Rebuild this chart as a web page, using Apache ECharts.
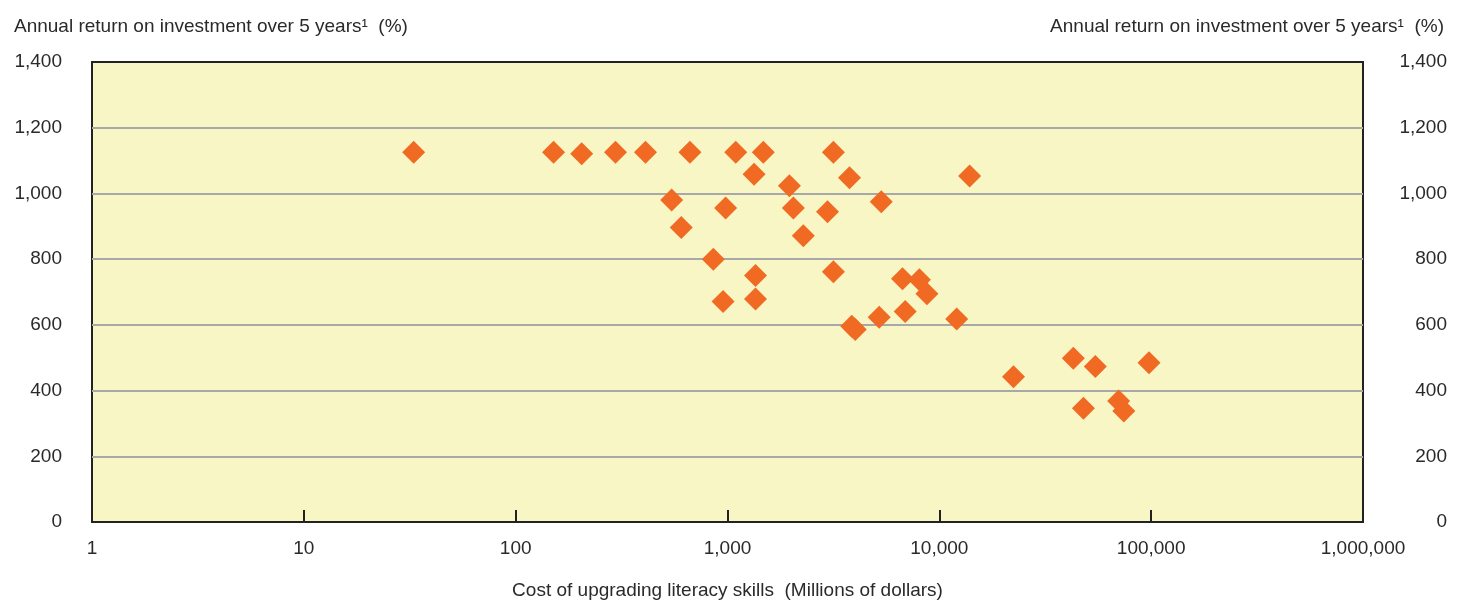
<!DOCTYPE html>
<html>
<head>
<meta charset="utf-8">
<script src="https://cdn.jsdelivr.net/npm/echarts@6/dist/echarts.min.js"></script>
<style>
html,body{margin:0;padding:0;background:#fff;}
#c{width:1465px;height:601px;}
</style>
</head>
<body>
<div id="c"></div>
<script>
// Cost of upgrading literacy skills (millions of dollars)
const costs = [33,151,205,296,410,665,1094,1476,3162,
  1335,1960,3767,13900,
  545,980,2046,2965,5320,
  605,2280,
  857,
  1356,3162,6700,8050,8740,
  953,1356,6900,5200,3860,4010,12080,
  97700,42900,54500,22400,47900,70200,74300];
// Annual return on investment over 5 years (%)
const returns = [1125,1125,1121,1125,1125,1125,1125,1125,1125,
  1058,1023,1048,1053,
  980,956,956,944,975,
  896,871,
  800,
  750,762,740,737,695,
  671,679,641,623,596,586,618,
  485,498,473,442,346,368,338];
const yTitle = 'Annual return on investment over 5 years\u00B9  (%)';
const xTitle = 'Cost of upgrading literacy skills  (Millions of dollars)';

const points = costs.map((c, i) => [c, returns[i]]);
const FONT = "'Liberation Sans', Arial, sans-serif";
const txt = {fontFamily: FONT, fontSize: 19, color: '#2a2a2a'};
const fmt = v => Number(v).toLocaleString('en-US');

const chart = echarts.init(document.getElementById('c'));
chart.setOption({
  backgroundColor: '#fff',
  animation: false,
  textStyle: {fontFamily: FONT},
  title: [
    {text: yTitle, left: 9, top: 12, textStyle: Object.assign({fontWeight: 'normal'}, txt)},
    {text: yTitle, right: 16, top: 12, textStyle: Object.assign({fontWeight: 'normal'}, txt)}
  ],
  grid: {
    left: 92, right: 102, top: 62, bottom: 79,
    containLabel: false, outerBoundsMode: 'none',
    show: true, backgroundColor: '#F8F6C4',
    borderColor: '#222', borderWidth: 2
  },
  xAxis: {
    type: 'log', logBase: 10, min: 1, max: 1000000,
    name: xTitle, nameLocation: 'middle', nameGap: 59,
    nameTextStyle: txt,
    axisLine: {show: false},
    axisTick: {show: true, inside: true, length: 12, lineStyle: {color: '#222', width: 2}},
    minorTick: {show: false},
    splitLine: {show: false},
    axisLabel: Object.assign({margin: 17, formatter: fmt}, txt)
  },
  yAxis: [
    {
      type: 'value', min: 0, max: 1400, interval: 200, position: 'left',
      axisLine: {show: false}, axisTick: {show: false},
      splitLine: {show: true, showMinLine: false, showMaxLine: false, lineStyle: {color: '#A8A8A8', width: 2}},
      axisLabel: Object.assign({margin: 30, formatter: fmt}, txt)
    },
    {
      type: 'value', min: 0, max: 1400, interval: 200, position: 'right',
      axisLine: {show: false}, axisTick: {show: false},
      splitLine: {show: false},
      axisLabel: Object.assign({margin: 84, align: 'right', formatter: fmt}, txt)
    }
  ],
  series: [{
    type: 'scatter',
    data: points,
    symbol: 'diamond',
    symbolSize: 23,
    itemStyle: {color: '#F06A24', opacity: 1}
  }]
});
</script>
</body>
</html>
